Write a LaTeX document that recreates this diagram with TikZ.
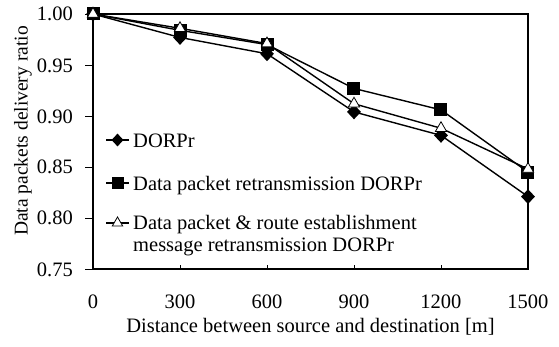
\documentclass[tikz,border=0pt]{standalone}
\usepackage{fontspec}
\setmainfont{Liberation Serif}
\usetikzlibrary{shapes.geometric, positioning}

\tikzset{
    dmark/.style={diamond, fill=black, inner sep=0pt, minimum width=14pt, minimum height=15pt},
    smark/.style={rectangle, fill=black, inner sep=0pt, minimum size=13pt},
    tmark/.style={regular polygon, regular polygon sides=3, draw=black, fill=white, line width=0.8pt, inner sep=0pt, minimum size=13pt},
    series/.style={line width=1.4pt},
    legtext/.style={inner sep=0pt, text height=14pt, text depth=0pt},
}

\begin{document}
\begin{tikzpicture}[x=1pt, y=1pt, font=\fontsize{20.5}{22}\selectfont]
        \useasboundingbox (0,0) rectangle (559,346);

        \begin{scope}[shift={(93pt,-688pt)}, x=0.29pt, y=1020pt]
            \foreach \x/\a/\b/\c [count=\i] in {0/1.000/1.000/1.000, 300/0.977/0.984/0.986,
                    600/0.961/0.970/0.971, 900/0.904/0.927/0.912,
                    1200/0.881/0.906/0.888, 1500/0.821/0.845/0.848} {
                \coordinate (d\i) at (\x,\a);
                \coordinate (s\i) at (\x,\b);
                \coordinate (t\i) at (\x,\c);
            }

            % axes
            \draw[line width=1.1pt] (0,0.75) rectangle (1500,1.00);
            \foreach \v [count=\k] in {0.75,0.80,0.85,0.90,0.95,1.00} {
                \draw[line width=0.8pt] (0,\v) -- ++(-8pt,0);
                \node[anchor=base east, inner sep=0pt] (ytick\k) at (0,\v) [xshift=-20pt, yshift=-7pt] {\v};
            }
            \foreach \x in {300,600,900,1200}
                \draw[line width=0.8pt] (\x,0.75) -- ++(0,4pt);
            \foreach \x in {0,300,...,1500}
                \node[anchor=base, inner sep=0pt] (xtick\x) at (\x,0.75) [yshift=-39pt] {\x};

            % curves
            \draw[series] (d1) -- (d2) -- (d3) -- (d4) -- (d5) -- (d6);
            \draw[series] (s1) -- (s2) -- (s3) -- (s4) -- (s5) -- (s6);
            \draw[series] (t1) -- (t2) -- (t3) -- (t4) -- (t5) -- (t6);
            \foreach \i in {1,...,6} \node[dmark] (dm\i) at (d\i) {};
            \foreach \i in {1,...,6} \node[smark] (sm\i) at (s\i) {};
            \foreach \i in {1,...,6} \node[tmark] (tm\i) at (t\i) {};
        \end{scope}

        \node[rotate=90, font=\fontsize{19.5}{22}\selectfont] (ylabel) at (23,215) {Data packets delivery ratio};
        \node[anchor=base] (xlabel) at (310.5,14) {Distance between source and destination [m]};

        % legend
        \coordinate (l1a) at (106,206);
        \coordinate (l1b) at (129,206);
        \coordinate (l2a) at (106,163);
        \coordinate (l2b) at (129,163);
        \coordinate (l3a) at (106,123);
        \coordinate (l3b) at (129,123);
        \draw[series] (l1a) -- (l1b);
        \draw[series] (l2a) -- (l2b);
        \draw[series] (l3a) -- (l3b);
        \node[dmark, minimum width=12pt, minimum height=13pt] (lm1) at (117.5,206) {};
        \node[smark, minimum size=12pt] (lm2) at (117.5,163) {};
        \node[tmark, minimum size=12pt] (lm3) at (117.5,123) {};
        \node[legtext, right=4pt of l1b] (lt1) {DORPr};
        \node[legtext, right=4pt of l2b] (lt2) {Data packet retransmission DORPr};
        \node[inner sep=0pt, align=left, right=4pt of l3b, anchor=north west, yshift=8pt] (lt3)
            {Data packet \& route establishment\\message retransmission DORPr};
\end{tikzpicture}
\end{document}
